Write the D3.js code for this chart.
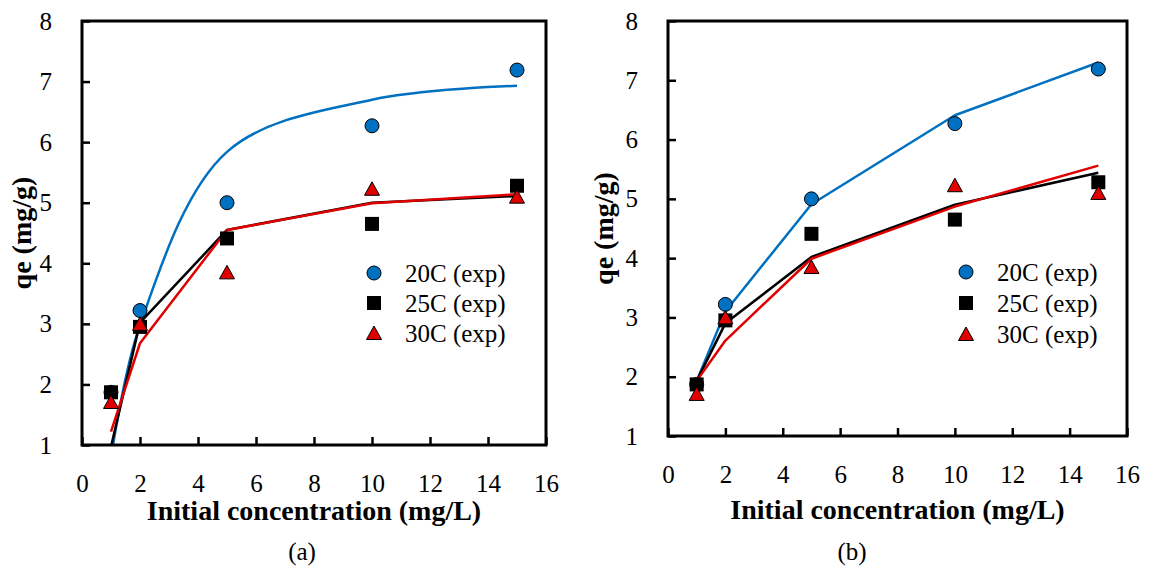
<!DOCTYPE html>
<html>
<head>
<meta charset="utf-8">
<script src="https://cdn.jsdelivr.net/npm/d3@7"></script>
<style>
  body { margin: 0; background: #fff; }
  svg text { font-family: "Liberation Serif", "Times New Roman", serif; fill: #000; }
</style>
</head>
<body>
<div id="container"></div>
<script>
// experimental data (same in both panels)
const conc = [1, 2, 5, 10, 15];
const exp20 = [1.87, 3.22, 5.0, 6.27, 7.19];
const exp25 = [1.87, 2.95, 4.41, 4.65, 5.28];
const exp30 = [1.71, 3.0, 3.85, 5.23, 5.10];

// model lines, panel (a)
const fitA20 = [0.78, 2.98, 5.84, 6.70, 6.93];
const fitA25 = [0.97, 3.02, 4.55, 5.0, 5.11];
const fitA30 = [1.22, 2.68, 4.55, 4.99, 5.14];

// model lines, panel (b)
const fitB20 = [1.93, 3.1, 4.91, 6.41, 7.30];
const fitB25 = [1.93, 2.9, 4.02, 4.90, 5.44];
const fitB30 = [1.93, 2.61, 3.99, 4.87, 5.56];

const xTicks = [0, 2, 4, 6, 8, 10, 12, 14, 16];
const yTicks = [1, 2, 3, 4, 5, 6, 7, 8];
const seriesNames = ["20C (exp)", "25C (exp)", "30C (exp)"];
const panelTags = ["(a)", "(b)"];
const xTitle = "Initial concentration (mg/L)";
const yTitle = "qe (mg/g)";

const W = 1150, H = 570;
const BLUE = "#0070c0", RED = "#e00000";

const svg = d3.select("#container")
    .append("svg")
    .attr("width", W)
    .attr("height", H);

const panels = [
    {left: 82, right: 546, top: 21, bottom: 445, yTitleX: 31, xTitleY: 520, tagX: 302,
     legX: 374, legY: 273, legStep: 30, fits: [fitA20, fitA25, fitA30], smooth: true},
    {left: 668, right: 1127, top: 21, bottom: 436, yTitleX: 613, xTitleY: 519, tagX: 852,
     legX: 966, legY: 272, legStep: 31, fits: [fitB20, fitB25, fitB30], smooth: false}
];

function marker(g, kind, cx, cy) {
    if (kind === 0) {
        g.append("circle").attr("cx", cx).attr("cy", cy).attr("r", 7)
            .attr("fill", BLUE).attr("stroke", "#000").attr("stroke-width", 1);
    } else if (kind === 1) {
        g.append("rect").attr("x", cx - 7).attr("y", cy - 7)
            .attr("width", 14).attr("height", 14).attr("fill", "#000");
    } else {
        g.append("path")
            .attr("d", `M${cx},${cy - 7}L${cx + 7.5},${cy + 6.5}L${cx - 7.5},${cy + 6.5}Z`)
            .attr("fill", RED).attr("stroke", "#000").attr("stroke-width", 1);
    }
}

panels.forEach((p, i) => {
    const x = d3.scaleLinear().domain([0, 16]).range([p.left, p.right]);
    const y = d3.scaleLinear().domain([1, 8]).range([p.bottom, p.top]);
    const g = svg.append("g");

    // axes, ticks point inward
    const xAx = g.append("g")
        .attr("transform", `translate(0,${p.bottom})`)
        .call(d3.axisBottom(x).tickValues(xTicks).tickFormat(d3.format("d"))
            .tickSizeInner(-8).tickSizeOuter(0).tickPadding(29));
    const yAx = g.append("g")
        .attr("transform", `translate(${p.left},0)`)
        .call(d3.axisLeft(y).tickValues(yTicks).tickFormat(d3.format("d"))
            .tickSizeInner(-8).tickSizeOuter(0).tickPadding(30));
    [xAx, yAx].forEach(a => {
        a.attr("font-family", null).attr("font-size", null);
        a.select(".domain").remove();
        a.selectAll("line").attr("stroke", "#000").attr("stroke-width", 2.5);
        a.selectAll("text").attr("font-size", 25);
    });

    // clip for model lines
    const clipId = "clip" + i;
    svg.append("clipPath").attr("id", clipId)
        .append("rect")
        .attr("x", p.left).attr("y", p.top)
        .attr("width", p.right - p.left).attr("height", p.bottom - p.top);

    const colors = [BLUE, "#000", RED];
    p.fits.forEach((vals, k) => {
        const line = d3.line()
            .x((d, j) => x(conc[j]))
            .y(d => y(d))
            .curve(p.smooth && k === 0 ? d3.curveCatmullRom.alpha(0.5) : d3.curveLinear);
        g.append("path")
            .attr("clip-path", `url(#${clipId})`)
            .attr("d", line(vals))
            .attr("fill", "none")
            .attr("stroke", colors[k])
            .attr("stroke-width", 2.5)
            .attr("stroke-linejoin", "round");
    });

    // experimental markers
    [exp20, exp25, exp30].forEach((vals, k) => {
        vals.forEach((v, j) => marker(g, k, x(conc[j]), y(v)));
    });

    // frame
    g.append("rect")
        .attr("x", p.left).attr("y", p.top)
        .attr("width", p.right - p.left).attr("height", p.bottom - p.top)
        .attr("fill", "none").attr("stroke", "#000").attr("stroke-width", 3);

    // legend
    seriesNames.forEach((name, k) => {
        const ly = p.legY + k * p.legStep;
        marker(g, k, p.legX, ly);
        g.append("text")
            .attr("x", p.legX + 31).attr("y", ly).attr("dy", "0.35em")
            .attr("font-size", 25).text(name);
    });

    // titles
    g.append("text")
        .attr("x", (p.left + p.right) / 2).attr("y", p.xTitleY)
        .attr("text-anchor", "middle").attr("font-size", 28).attr("font-weight", "bold")
        .text(xTitle);
    g.append("text")
        .attr("transform", `translate(${p.yTitleX},${(p.top + p.bottom) / 2}) rotate(-90)`)
        .attr("text-anchor", "middle").attr("font-size", 28).attr("font-weight", "bold")
        .text(yTitle);
    g.append("text")
        .attr("x", p.tagX).attr("y", 560)
        .attr("text-anchor", "middle").attr("font-size", 25)
        .text(panelTags[i]);
});
</script>
</body>
</html>
